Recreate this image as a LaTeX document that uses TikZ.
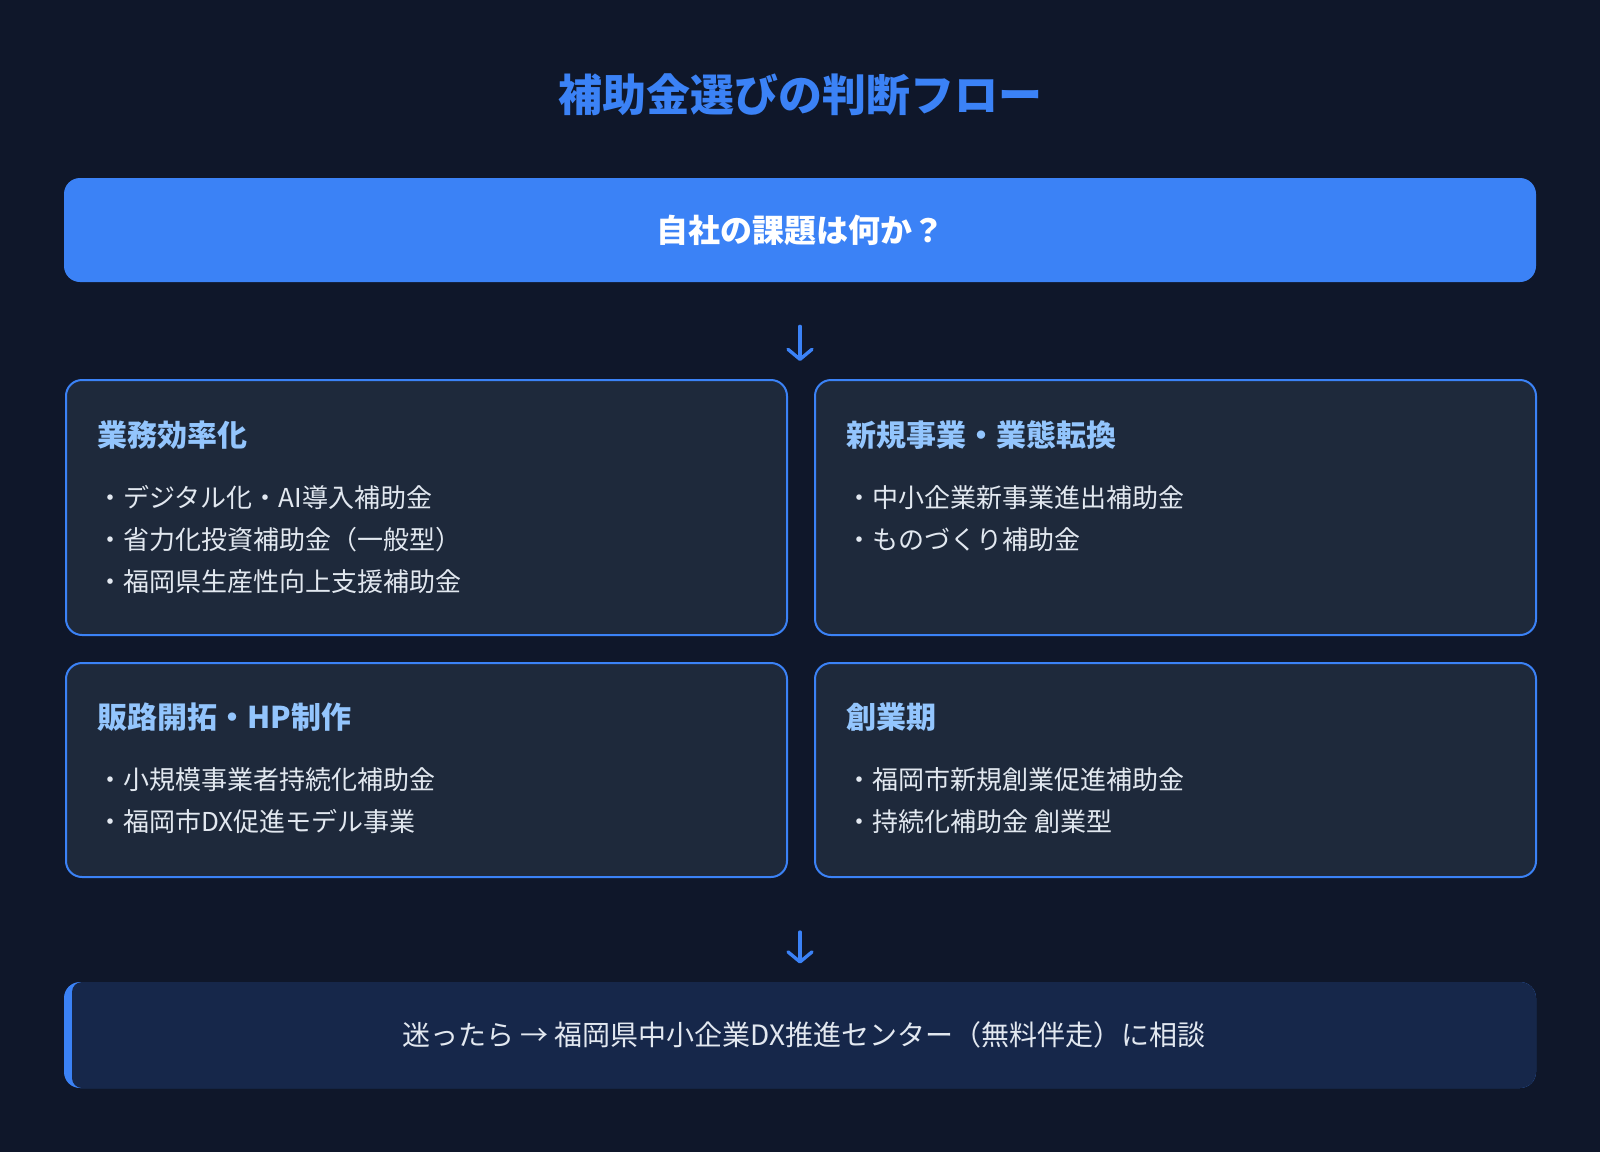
\documentclass[tikz,border=0pt]{standalone}
\usepackage{fontspec}
\setmainfont{Noto Sans CJK JP}
\usetikzlibrary{arrows.meta}
\definecolor{pagebg}{HTML}{0F172A}
\definecolor{accent}{HTML}{3B82F6}
\definecolor{cardfill}{HTML}{1E293B}
\definecolor{headblue}{HTML}{93C5FD}
\definecolor{itemgray}{HTML}{E2E8F0}
\definecolor{helpfill}{HTML}{16274A}
\begin{document}
\begin{tikzpicture}[x=1pt, y=-1pt,
  titletext/.style={inner sep=0pt, text=accent, font=\fontsize{22}{26}\selectfont\bfseries, text height=19.4pt, text depth=2.6pt},
  askbox/.style={fill=accent, rounded corners=8pt, minimum width=736pt, minimum height=52pt, text=white, font=\fontsize{16}{20}\selectfont\bfseries, text height=14.1pt, text depth=1.9pt},
  card/.style={draw=accent, line width=1pt, fill=cardfill, rounded corners=8pt, inner sep=0pt, anchor=north west, minimum width=360.5pt},
  cardhead/.style={anchor=west, inner sep=0pt, text=headblue, font=\fontsize{15}{18}\selectfont\bfseries, text height=13.2pt, text depth=1.8pt},
  item/.style={anchor=west, inner sep=0pt, text=itemgray, font=\fontsize{13}{16}\selectfont, text height=11.4pt, text depth=1.6pt},
  helpbox/.style={fill=accent, rounded corners=8pt, inner sep=0pt, minimum width=736pt, minimum height=53pt,
    path picture={\fill[helpfill, rounded corners=5pt] ([xshift=4pt]path picture bounding box.south west) rectangle ([xshift=30pt]path picture bounding box.north east);}},
  helpline/.style={inner sep=0pt, text=itemgray, font=\fontsize{14}{18}\selectfont, text height=12.3pt, text depth=1.7pt},
  flow/.style={draw=accent, line width=1.7pt, line cap=round, -{Straight Barb[length=5pt, width=12pt, round]}, shorten <=22pt, shorten >=9pt}]
\fill [pagebg] (0, 0) rectangle (800, 576);
\useasboundingbox (0, 0) rectangle (800, 576);

\node [titletext] (title) at (400, 47.5) {補助金選びの判断フロー};
\node [askbox] (ask) at (400, 115) {自社の課題は何か？};

% cards
\node [card, minimum height=127.5pt] (eff) at (32.5, 189.5) {};
\node [card, minimum height=127.5pt] (biz) at (407, 189.5) {};
\node [card, minimum height=107pt] (sales) at (32.5, 331) {};
\node [card, minimum height=107pt] (start) at (407, 331) {};

\node [cardhead] (effhead) at ([shift={(16pt,-28pt)}]eff.north west) {業務効率化};
\node [item] (eff1) at ([shift={(16pt,-59.5pt)}]eff.north west) {・デジタル化・AI導入補助金};
\node [item] (eff2) at ([shift={(16pt,-80.5pt)}]eff.north west) {・省力化投資補助金（一般型）};
\node [item] (eff3) at ([shift={(16pt,-101.5pt)}]eff.north west) {・福岡県生産性向上支援補助金};

\node [cardhead] (bizhead) at ([shift={(16pt,-28pt)}]biz.north west) {新規事業・業態転換};
\node [item] (biz1) at ([shift={(16pt,-59.5pt)}]biz.north west) {・中小企業新事業進出補助金};
\node [item] (biz2) at ([shift={(16pt,-80.5pt)}]biz.north west) {・ものづくり補助金};

\node [cardhead] (saleshead) at ([shift={(16pt,-27.5pt)}]sales.north west) {販路開拓・HP制作};
\node [item] (sales1) at ([shift={(16pt,-59pt)}]sales.north west) {・小規模事業者持続化補助金};
\node [item] (sales2) at ([shift={(16pt,-80pt)}]sales.north west) {・福岡市DX促進モデル事業};

\node [cardhead] (starthead) at ([shift={(16pt,-27.5pt)}]start.north west) {創業期};
\node [item] (start1) at ([shift={(16pt,-59pt)}]start.north west) {・福岡市新規創業促進補助金};
\node [item] (start2) at ([shift={(16pt,-80pt)}]start.north west) {・持続化補助金 創業型};

% bottom note
\node [helpbox] (help) at (400, 517.5) {};
\node [helpline] (helptext) at ([xshift=2pt]help.center) {迷ったら → 福岡県中小企業DX推進センター（無料伴走）に相談};

\draw [flow] (ask.south) -- (ask.south |- eff.north);
\draw [flow, shorten <=27pt] (ask.south |- sales.south) -- (ask.south |- help.north);
\end{tikzpicture}
\end{document}
